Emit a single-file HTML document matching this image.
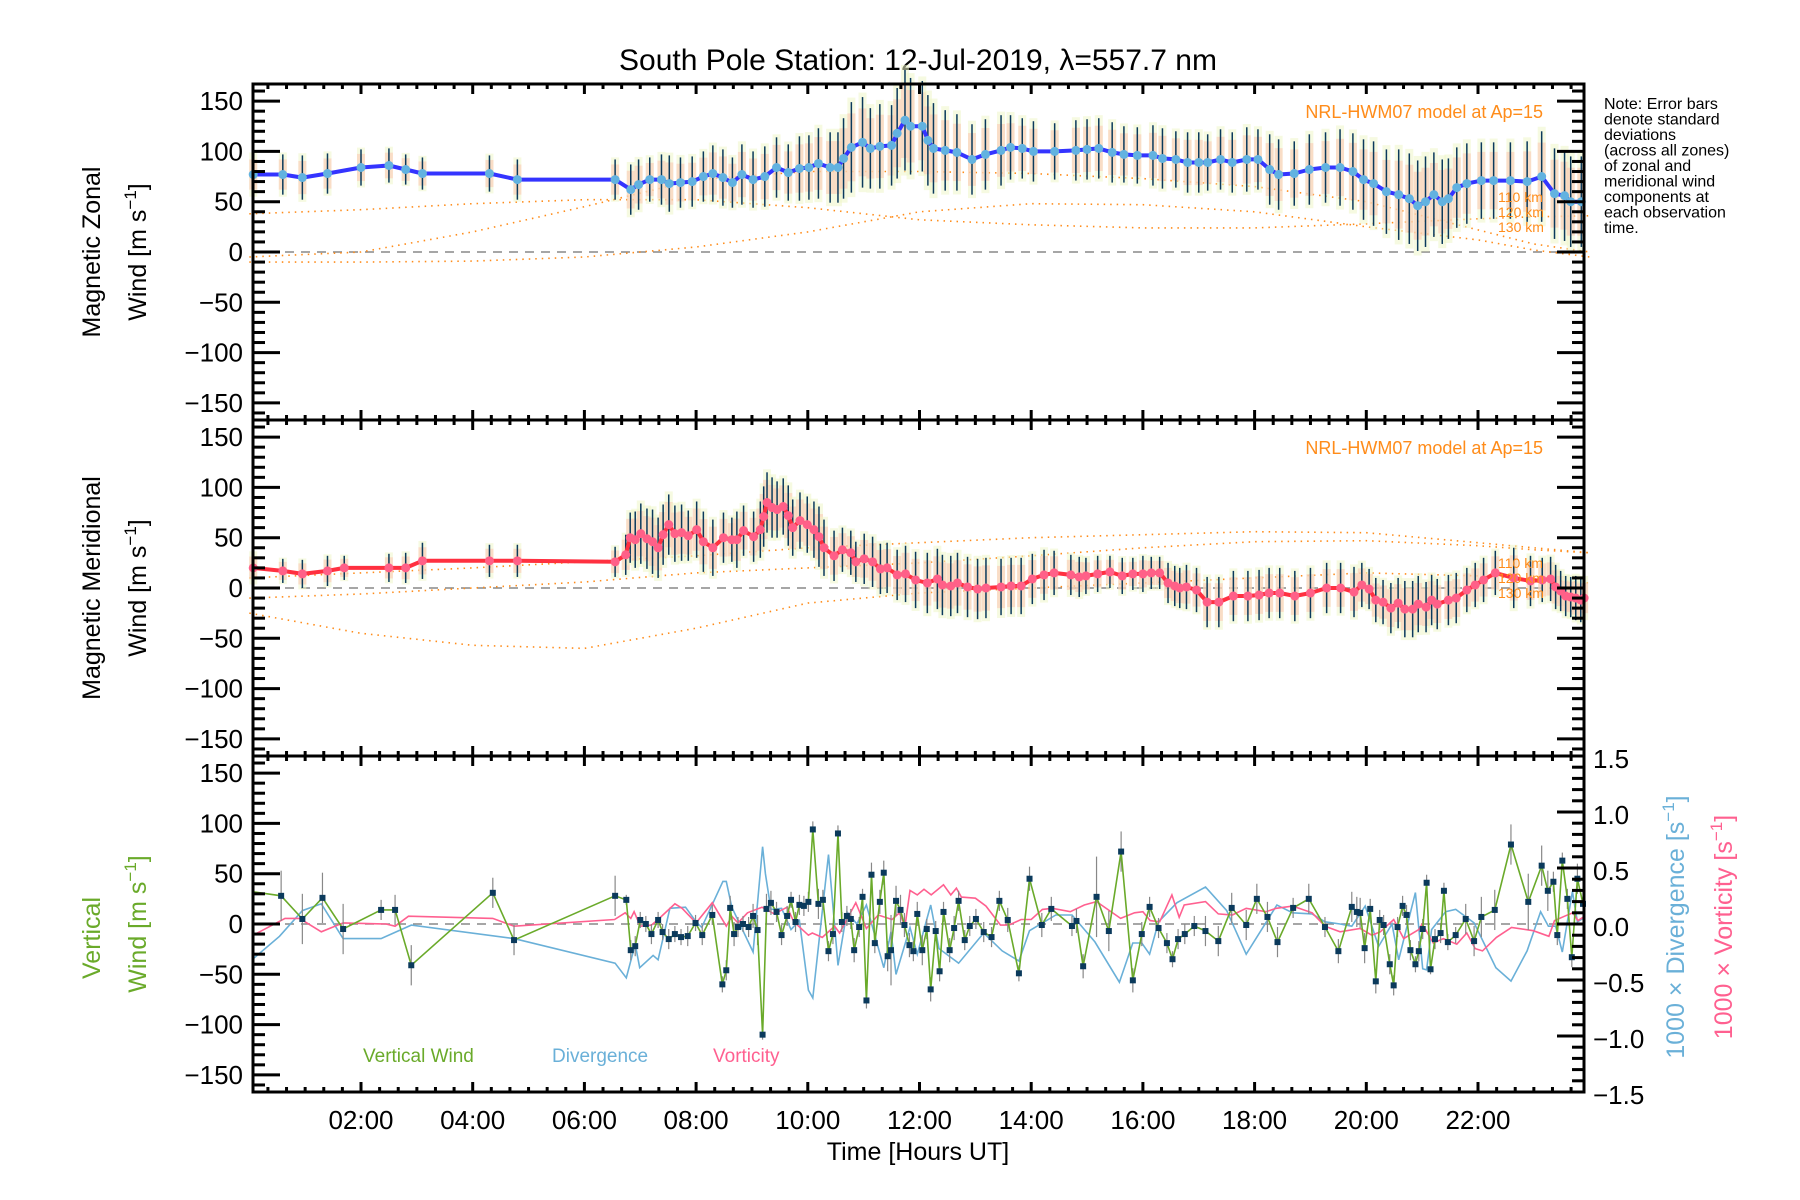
<!DOCTYPE html>
<html><head><meta charset="utf-8"><title>South Pole Station winds</title>
<style>
html,body{margin:0;padding:0;background:#fff;}
svg{display:block;font-family:"Liberation Sans",sans-serif;}
</style></head>
<body>
<svg id="chart" width="1800" height="1200" viewBox="0 0 1800 1200" xmlns="http://www.w3.org/2000/svg">
<rect x="0" y="0" width="1800" height="1200" fill="#fff"/>
<text x="918" y="70" font-size="30" text-anchor="middle">South Pole Station: 12-Jul-2019, λ=557.7 nm</text>
<g id="layers"></g>
<g font-size="25">
<text transform="translate(100,252) rotate(-90)" text-anchor="middle">Magnetic Zonal</text>
<text transform="translate(146,252) rotate(-90)" text-anchor="middle">Wind [m s<tspan dy="-10" font-size="17">−1</tspan><tspan dy="10">]</tspan></text>
</g>
<g font-size="25">
<text transform="translate(100,588) rotate(-90)" text-anchor="middle">Magnetic Meridional</text>
<text transform="translate(146,588) rotate(-90)" text-anchor="middle">Wind [m s<tspan dy="-10" font-size="17">−1</tspan><tspan dy="10">]</tspan></text>
</g>
<g font-size="25" fill="#6aaa2a">
<text transform="translate(100,938) rotate(-90)" text-anchor="middle">Vertical</text>
<text transform="translate(146,924) rotate(-90)" text-anchor="middle">Wind [m s<tspan dy="-10" font-size="17">−1</tspan><tspan dy="10">]</tspan></text>
</g>
<text transform="translate(1684,927) rotate(-90)" text-anchor="middle" font-size="25" fill="#6ab0d8">1000 × Divergence [s<tspan dy="-10" font-size="17">−1</tspan><tspan dy="10">]</tspan></text>
<text transform="translate(1732,927) rotate(-90)" text-anchor="middle" font-size="25" fill="#ff6090">1000 × Vorticity [s<tspan dy="-10" font-size="17">−1</tspan><tspan dy="10">]</tspan></text>
<text x="918" y="1160" font-size="25" text-anchor="middle">Time [Hours UT]</text>
<g font-size="16">
<text x="1604" y="109">Note: Error bars</text>
<text x="1604" y="124.5">denote standard</text>
<text x="1604" y="140">deviations</text>
<text x="1604" y="155.5">(across all zones)</text>
<text x="1604" y="171">of zonal and</text>
<text x="1604" y="186.5">meridional wind</text>
<text x="1604" y="202">components at</text>
<text x="1604" y="217.5">each observation</text>
<text x="1604" y="233">time.</text>
</g>
<text x="1543" y="118" font-size="18" fill="#ff8c1a" text-anchor="end">NRL-HWM07 model at Ap=15</text>
<text x="1543" y="454" font-size="18" fill="#ff8c1a" text-anchor="end">NRL-HWM07 model at Ap=15</text>
<g font-size="14" fill="#ff8c1a">
<text x="1498" y="202">110 km</text><text x="1498" y="217">120 km</text><text x="1498" y="232">130 km</text>
</g>
<g font-size="14" fill="#ff8c1a">
<text x="1498" y="568">110 km</text><text x="1498" y="583">120 km</text><text x="1498" y="598">130 km</text>
</g>
<g font-size="19">
<text x="363" y="1062" fill="#6aaa2a">Vertical Wind</text>
<text x="552" y="1062" fill="#6ab0d8">Divergence</text>
<text x="713" y="1062" fill="#ff6090">Vorticity</text>
</g>
</svg>
<script>
// ---- data ----
const zT=[0.07,0.6,0.95,1.4,2.0,2.5,2.8,3.1,4.3,4.8,
6.55,6.83,6.97,7.17,7.38,7.52,7.72,7.93,8.13,8.3,
8.48,8.65,8.82,9.02,9.23,9.44,9.65,9.85,10.02,10.19,
10.4,10.54,10.64,10.78,10.98,11.12,11.29,11.5,11.6,11.74,
11.84,12.05,12.15,12.25,12.46,12.67,12.94,13.18,13.46,13.63,
13.84,14.04,14.42,14.8,15.0,15.21,15.45,15.66,15.9,16.18,
16.35,16.59,16.8,17.0,17.16,17.39,17.6,17.86,18.06,18.27,
18.43,18.71,18.98,19.27,19.53,19.76,19.95,20.13,20.36,20.58,
20.77,20.92,21.06,21.21,21.36,21.47,21.62,21.8,22.06,22.28,
22.58,22.88,23.14,23.37,23.55,23.66,23.85];
const zV=[77,77,74,78,84,86,82,78,78,72,
72,62,67,72,72,68,69,70,75,78,
74,69,77,72,75,84,79,83,84,88,
84,84,93,104,109,103,105,106,118,131,
125,125,111,103,101,99,92,97,101,104,
103,100,100,101,102,103,99,97,96,96,
93,92,89,89,89,92,89,92,92,82,
77,78,82,84,84,80,72,68,60,57,
53,46,50,57,50,53,64,68,71,71,
71,70,75,58,56,50,50];
const zE=[20,20,22,20,18,17,15,16,18,20,
20,25,25,22,25,28,25,25,25,28,
28,25,30,28,30,30,28,32,32,35,
35,35,40,45,45,40,42,40,45,50,
48,45,45,45,40,38,35,35,35,32,
30,30,28,30,30,30,30,28,28,30,
30,28,30,30,28,30,30,32,30,35,
35,32,35,35,38,38,40,42,42,45,
45,45,45,42,42,40,40,40,38,38,
38,40,45,45,45,45,45];
const mT=[0.07,0.6,0.95,1.4,1.7,2.5,2.8,3.1,4.3,4.8,
6.55,6.74,6.82,6.91,7.01,7.12,7.22,7.32,7.41,7.51,
7.62,7.74,7.86,8.01,8.13,8.3,8.49,8.64,8.73,8.85,
9.03,9.15,9.21,9.27,9.36,9.45,9.56,9.65,9.73,9.86,
9.99,10.11,10.2,10.29,10.47,10.62,10.77,10.86,11.01,11.16,
11.3,11.42,11.6,11.75,11.93,12.14,12.32,12.41,12.56,12.68,
12.86,13.04,13.19,13.46,13.64,13.82,14.02,14.23,14.41,14.71,
14.86,14.98,15.19,15.41,15.63,15.82,16.0,16.15,16.3,16.45,
16.57,16.66,16.78,16.96,17.15,17.36,17.62,17.88,18.08,18.26,
18.45,18.72,19.0,19.29,19.54,19.78,19.92,20.05,20.17,20.3,
20.44,20.57,20.69,20.83,20.93,21.07,21.17,21.27,21.47,21.61,
21.8,21.95,22.1,22.31,22.64,22.94,23.15,23.3,23.39,23.48,
23.57,23.66,23.75,23.84,23.9];
const mV=[20,17,14,17,20,20,20,27,27,27,
26,33,50,48,54,49,46,40,53,63,
54,55,52,58,46,40,50,48,48,57,
51,58,71,85,80,78,81,72,60,67,
63,58,51,40,32,38,35,26,29,26,
19,20,13,14,8,5,9,3,2,5,
1,-1,0,1,2,2,9,13,15,13,
11,12,14,16,12,14,14,15,15,5,
2,0,1,-2,-14,-14,-8,-8,-7,-5,
-5,-8,-5,0,0,-4,3,-1,-12,-14,
-20,-15,-21,-21,-16,-19,-12,-16,-12,-10,
-2,3,8,15,10,7,8,9,1,-3,
-8,-9,-10,-12,-10];
const mE=[15,12,14,15,12,14,15,18,16,16,
15,20,25,28,30,30,32,30,30,30,
28,28,25,28,30,28,25,22,28,25,
25,28,30,30,30,28,28,30,28,28,
28,28,30,28,25,22,22,20,25,25,
25,25,25,28,28,30,30,30,30,30,
30,30,30,28,28,28,25,25,22,20,
20,18,18,16,18,16,18,16,16,20,
20,20,22,22,25,25,25,25,25,25,
25,25,25,25,25,25,22,20,22,22,
25,25,28,28,28,25,25,25,25,25,
22,22,22,22,30,25,22,22,22,20,
20,20,22,22,20];
const wT=[0.07,0.57,0.95,1.31,1.68,2.36,2.61,2.9,4.36,4.74,
6.55,6.75,6.83,6.91,7.0,7.1,7.2,7.32,7.4,7.51,
7.62,7.73,7.85,7.99,8.11,8.29,8.47,8.54,8.61,8.68,
8.75,8.84,8.94,9.02,9.1,9.19,9.26,9.34,9.44,9.53,
9.63,9.7,9.78,9.85,9.93,10.01,10.09,10.19,10.27,10.37,
10.45,10.54,10.61,10.7,10.77,10.83,10.92,10.98,11.05,11.14,
11.2,11.29,11.36,11.43,11.49,11.58,11.66,11.73,11.82,11.89,
11.96,12.05,12.13,12.2,12.29,12.36,12.43,12.54,12.62,12.7,
12.81,12.9,13.01,13.15,13.29,13.43,13.58,13.78,13.97,14.19,
14.36,14.73,14.81,14.93,15.17,15.39,15.61,15.82,15.98,16.12,
16.28,16.43,16.53,16.63,16.75,16.92,17.12,17.35,17.59,17.85,
18.04,18.23,18.41,18.69,18.97,19.26,19.5,19.74,19.83,19.89,
19.97,20.07,20.17,20.24,20.31,20.42,20.49,20.56,20.65,20.72,
20.79,20.88,20.94,21.01,21.08,21.15,21.23,21.33,21.39,21.46,
21.6,21.78,21.93,22.06,22.3,22.59,22.9,23.14,23.25,23.35,
23.42,23.51,23.6,23.68,23.78,23.88];
const wV=[32,28,5,26,-5,14,14,-41,31,-16,
28,24,-26,-22,4,0,-10,4,-8,-15,
-10,-13,-12,1,-11,9,-60,-46,16,-10,
-3,0,-3,8,-6,-110,15,21,12,-11,
8,24,2,19,18,22,94,20,24,-27,
-10,90,2,8,5,-26,-3,27,-76,49,
-19,22,51,-32,-26,23,14,-1,-21,-27,
10,-26,-5,-65,-7,-47,12,-26,-4,23,
-16,-2,5,-8,-13,23,4,-49,45,-1,
15,-2,3,-42,27,-7,72,-56,-10,17,
-4,-19,-35,-15,-10,-2,-7,-17,16,-1,
25,7,-18,16,25,-3,-27,17,12,11,
-24,15,-57,4,-1,-40,-61,-3,18,9,
-26,-40,-27,-5,41,-45,-15,-9,33,-18,
-11,5,-17,7,14,79,22,58,33,42,
-11,63,25,-33,45,20];
const wE=[0,25,25,25,25,10,15,20,15,15,
20,5,10,10,8,8,10,8,8,10,
8,8,10,8,10,10,8,10,12,12,
10,8,10,12,15,5,15,12,10,10,
10,8,10,10,10,10,8,15,10,10,
10,8,10,10,10,12,10,8,8,12,
10,12,12,15,35,15,15,12,12,10,
12,15,10,12,10,10,10,12,12,10,
10,10,10,10,10,10,12,8,12,12,
12,10,12,12,40,20,20,12,12,10,
10,10,8,10,10,10,15,15,15,15,
15,15,15,10,15,10,12,15,15,15,
15,10,12,10,10,10,10,10,10,10,
10,8,10,10,8,5,10,10,8,8,
8,15,15,20,20,20,28,20,20,10,
10,8,10,10,15,0];
const dT=[0.07,0.54,0.95,1.29,1.68,2.36,2.9,4.74,6.55,6.75,6.91,6.99,7.23,7.32,7.53,7.81,8.0,8.1,8.48,8.54,8.64,9.02,9.19,9.24,9.34,9.53,9.7,9.85,10.01,10.09,10.37,10.54,10.7,10.88,11.05,11.36,11.49,11.58,11.83,11.96,12.2,12.35,12.7,13.15,13.48,13.78,13.97,14.44,14.73,15.14,15.58,15.82,15.98,16.12,16.28,16.61,17.12,17.5,17.85,18.4,18.68,19.03,19.26,19.53,19.74,19.98,20.22,20.46,20.58,20.88,21.01,21.08,21.17,21.42,21.6,21.93,22.32,22.59,22.88,23.12,23.26,23.39,23.51,23.69,23.78,23.88];
const dV=[-0.31,-0.11,0.12,0.18,-0.13,-0.13,-0.01,-0.13,-0.35,-0.48,-0.18,-0.39,-0.28,-0.32,0.14,0.15,0.02,-0.03,0.38,0.38,0.15,-0.25,0.69,0.45,0.13,0.14,-0.05,0.03,-0.59,-0.66,0.62,-0.37,0.11,0,0.17,-0.39,-0.07,-0.45,-0.03,-0.27,0.17,-0.22,-0.35,-0.08,-0.24,-0.33,-0.06,0.08,0.08,-0.16,-0.52,-0.17,-0.17,-0.27,0.02,0.19,0.33,0.12,-0.27,0.17,0.1,0.09,0.02,0.0,-0.02,0.16,-0.2,0.0,-0.32,0.28,-0.4,-0.41,-0.05,0.11,0.13,0.01,-0.39,-0.51,-0.24,0.11,-0.02,-0.02,-0.25,0.29,0.02,0.05];
const vT=[0.07,0.64,0.9,1.29,1.68,2.45,2.61,2.85,4.36,4.74,6.54,6.73,6.83,6.89,7.0,7.2,7.32,7.62,7.75,8.0,8.29,8.54,8.64,8.75,8.92,9.18,9.4,9.63,9.75,10.01,10.08,10.26,10.48,10.57,10.86,11.05,11.26,11.51,11.64,11.74,11.83,11.96,12.08,12.21,12.43,12.56,12.66,12.75,13.0,13.19,13.45,13.6,13.82,14.0,14.2,14.38,14.7,14.95,15.17,15.6,15.85,16.0,16.13,16.3,16.52,16.65,16.74,17.12,17.35,17.6,17.85,18.2,18.39,18.68,19.03,19.26,19.53,19.89,20.1,20.25,20.49,20.67,20.94,21.0,21.2,21.38,21.62,21.8,21.95,22.08,22.33,22.6,22.99,23.27,23.37,23.55,23.7,23.79,23.88];
const vV=[-0.1,0.05,0.05,-0.07,0.01,0.0,-0.02,0.07,0.05,-0.02,0.04,0.1,0.05,0.11,-0.02,-0.01,0.04,0.18,0.14,0.01,0.19,-0.02,0.07,0.01,0.1,0.15,0.09,0.15,0.02,-0.1,-0.08,-0.12,-0.02,-0.08,0.19,-0.04,0.08,0.04,0.1,-0.02,0.3,0.26,0.31,0.26,0.35,0.26,0.32,0.24,0.23,0.16,-0.01,-0.01,0.04,0.04,0.13,0.14,0.11,0.17,0.2,0.05,0.1,0.11,0.03,0.02,0.26,0.06,0.17,0.2,0.09,0.08,0.14,0.11,0.14,0.16,0.1,-0.02,-0.07,-0.04,-0.1,-0.07,0.04,-0.13,-0.05,0.0,-0.17,-0.13,-0.18,-0.08,-0.22,-0.24,-0.12,-0.03,-0.06,-0.11,0.03,0.07,0.1,0.03,0.06];
// model curves (knot time, value)
const modelKnotT=[0,2,4,6,8,10,12,14,16,18,20,22,23,24];
const modelZ110=[38,42,48,52,52,44,32,27,24,24,28,33,35,36];
const modelZ120=[-5,0,20,45,72,80,80,78,73,65,50,22,8,0];
const modelZ130=[-10,-10,-9,-5,5,20,40,48,47,40,25,12,2,-5];
const modelM110=[10,15,20,26,32,40,45,50,53,56,55,45,40,35];
const modelM120=[-10,-6,0,6,15,20,25,32,40,46,47,42,38,35];
const modelM130=[-25,-45,-57,-60,-40,-15,-5,0,5,10,15,12,9,5];
const yTicks=[150,100,50,0,-50,-100,-150];
const rTicks=[1.5,1.0,0.5,0.0,-0.5,-1.0,-1.5];
const xTickHours=[2,4,6,8,10,12,14,16,18,20,22];
const xTickLabels=["02:00","04:00","06:00","08:00","10:00","12:00","14:00","16:00","18:00","20:00","22:00"];

// ---- geometry ----
const L=253,R=1584,PT=[84,420,756],PH=336,NS="http://www.w3.org/2000/svg";
const X=t=>249.3+55.85*t;
const Y=(p,v)=>PT[p]+168-v*1.006;
const YR=v=>PT[2]+168-v*112;
const root=document.getElementById('layers');
function mk(tag,attrs,parent){const e=document.createElementNS(NS,tag);for(const k in attrs)e.setAttribute(k,attrs[k]);(parent||root).appendChild(e);return e;}
function grp(name){const g=mk('g',{});return g;}
function poly(xs,ys,f){return xs.map((t,i)=>X(t).toFixed(1)+','+f(ys[i]).toFixed(1)).join(' ');}

// zero lines
for(let p=0;p<3;p++){
  const z=mk('line',{x1:L,x2:R,y1:Y(p,0),y2:Y(p,0),stroke:'#888','stroke-width':1.5,'stroke-dasharray':'9,7'});
  
  
}

// models
function model(p,arr,name){
  const pl=mk('polyline',{points:poly(modelKnotT,arr,v=>Y(p,v)),fill:'none',stroke:'#ff8c1a','stroke-width':1.6,'stroke-dasharray':'1.5,5'});
  
  
}
model(0,modelZ110,'model-zonal-110km');model(0,modelZ120,'model-zonal-120km');model(0,modelZ130,'model-zonal-130km');
model(1,modelM110,'model-meridional-110km');model(1,modelM120,'model-meridional-120km');model(1,modelM130,'model-meridional-130km');

// horizontal wind panels
function hpanel(p,T,V,E,lineCol,dotCol,name){
  const gb=grp(name+'-bands');
  T.forEach((t,i)=>{
    const x=X(t);
    const r1=mk('rect',{x:x-4,y:Y(p,V[i]+E[i]*1.1),width:8,height:E[i]*2.2*1.006,fill:'#eef6c8',opacity:0.55},gb);
    
    
    const r2=mk('rect',{x:x-4,y:Y(p,V[i]+E[i]*0.75),width:8,height:E[i]*1.5*1.006,fill:'#fcc4b0',opacity:0.55},gb);
    
    
  });
  const ge=grp(name+'-error-bars');
  T.forEach((t,i)=>{
    const l=mk('line',{x1:X(t),x2:X(t),y1:Y(p,V[i]+E[i]),y2:Y(p,V[i]-E[i]),stroke:'#0b3a5c','stroke-width':1.5},ge);
    
    
  });
  const pl=mk('polyline',{points:poly(T,V,v=>Y(p,v)),fill:'none',stroke:lineCol,'stroke-width':4,'stroke-linejoin':'round'});
  
  
  const gd=grp(name+'-points');
  T.forEach((t,i)=>{
    const c=mk('circle',{cx:X(t),cy:Y(p,V[i]),r:4.5,fill:dotCol},gd);
    
    
  });
}
hpanel(0,zT,zV,zE,'#3434ff','#62b2e0','zonal-wind');
hpanel(1,mT,mV,mE,'#ff3040','#ff6088','meridional-wind');

// panel 3
const div=mk('polyline',{points:poly(dT,dV,YR),fill:'none',stroke:'#6ab0d8','stroke-width':1.6});


const vor=mk('polyline',{points:poly(vT,vV,YR),fill:'none',stroke:'#ff6090','stroke-width':1.6});


const gwe=grp('vertical-wind-error-bars');
wT.forEach((t,i)=>{ if(wE[i]>0){
  const l=mk('line',{x1:X(t),x2:X(t),y1:Y(2,wV[i]+wE[i]),y2:Y(2,wV[i]-wE[i]),stroke:'#888','stroke-width':1.2},gwe);
  
  
}});
const vw=mk('polyline',{points:poly(wT,wV,v=>Y(2,v)),fill:'none',stroke:'#6aaa2a','stroke-width':1.6});


const gwp=grp('vertical-wind-points');
wT.forEach((t,i)=>{ if(i>0){
  const r=mk('rect',{x:X(t)-3,y:Y(2,wV[i])-3,width:6,height:6,fill:'#0b3a5c'},gwp);
  
  
}});

// frames & ticks
const ga=grp('axes');
for(let p=0;p<3;p++){
  const top=PT[p],bot=PT[p]+PH;
  const f=mk('rect',{x:L,y:top,width:R-L,height:PH,fill:'none',stroke:'#000','stroke-width':3},ga);
  
  
  for(let v=-160;v<=160;v+=10){
    const y=Y(p,v); if(y<top+1||y>bot-1)continue;
    const len=(v%50===0)?27:12;
    const a=mk('line',{x1:L,x2:L+len,y1:y,y2:y,stroke:'#000','stroke-width':3},ga);
    
    
    if(p<2){
      const b=mk('line',{x1:R-len,x2:R,y1:y,y2:y,stroke:'#000','stroke-width':3},ga);
      
      
    }
  }
  yTicks.forEach(v=>{
    const t=mk('text',{x:243,y:Y(p,v)+9,'font-size':26,'text-anchor':'end'},ga);
    t.textContent=v<0?'−'+Math.abs(v):String(v);
    
    
  });
  for(let m=0;m<=72;m++){
    const h=m/3, x=X(h); if(x<L+2||x>R-2)continue;
    const len=(m%6===0)?10:5;
    const a=mk('line',{x1:x,x2:x,y1:top,y2:top+len,stroke:'#000','stroke-width':3},ga);
    
    
    const b=mk('line',{x1:x,x2:x,y1:bot-len,y2:bot,stroke:'#000','stroke-width':3},ga);
    
    
  }
}
for(let k=-15;k<=15;k++){
  const v=k/10,y=YR(v); if(y<PT[2]+1||y>PT[2]+PH-1)continue;
  const len=(k%5===0)?27:12;
  const a=mk('line',{x1:R-len,x2:R,y1:y,y2:y,stroke:'#000','stroke-width':3},ga);
  
  
}
rTicks.forEach(v=>{
  const t=mk('text',{x:1593,y:YR(v)+12,'font-size':26},ga);
  t.textContent=(v<0?'−':'')+Math.abs(v).toFixed(1);
  
  
});
xTickHours.forEach((h,i)=>{
  const t=mk('text',{x:X(h),y:1129,'font-size':26,'text-anchor':'middle'},ga);
  t.textContent=xTickLabels[i];
  
  
});
</script>
</body></html>
